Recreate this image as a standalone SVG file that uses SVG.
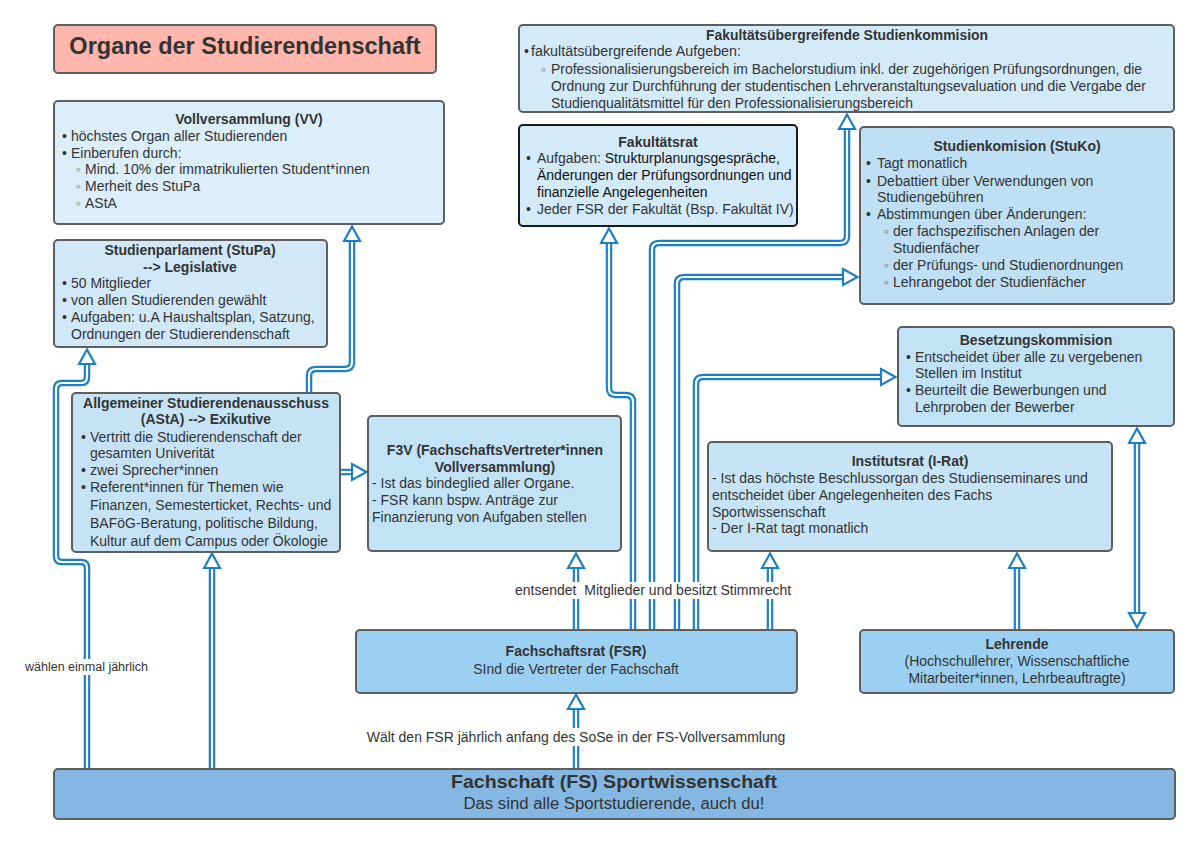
<svg xmlns="http://www.w3.org/2000/svg" width="1200" height="844" viewBox="0 0 1200 844">
<style>
.box{stroke:#5E5E5E;stroke-width:2}
.t{font-family:"Liberation Sans",Arial,Helvetica,sans-serif;font-size:14px;fill:#333}
.h{font-weight:bold;text-anchor:middle}
.m{text-anchor:middle}
.sb{font-family:"DejaVu Sans","Liberation Sans",sans-serif;font-size:12px;fill:#333}
.lo{fill:none;stroke:#1B7FC4;stroke-width:6.5}
.li{fill:none;stroke:#fff;stroke-width:2.2}
.ah{marker-end:url(#ah)}
.lbl{fill:#fff}
</style>
<defs>
<marker id="ah" viewBox="-3 -11 22 22" refX="0" refY="0" markerWidth="22" markerHeight="22" markerUnits="userSpaceOnUse" orient="auto-start-reverse" overflow="visible">
<path d="M0,-8 L14.5,0 L0,8 Z" fill="#fff" stroke="#1B7FC4" stroke-width="2.2"/>
</marker>
</defs>
<rect width="1200" height="844" fill="#fff"/>

<g id="connectors">
<path class="lo" d="M87,769 V568 Q87,562 81,562 H62 Q56,562 56,556 V389 Q56,383 62,383 H81 Q87,383 87,377 V364"/>
<path class="li ah" d="M87,769 V568 Q87,562 81,562 H62 Q56,562 56,556 V389 Q56,383 62,383 H81 Q87,383 87,377 V364"/>
<path class="lo" d="M212,769 V568"/><path class="li ah" d="M212,769 V568"/>
<path class="lo" d="M309,393 V376 Q309,369 316,369 H345 Q352,369 352,362 V241"/>
<path class="li ah" d="M309,393 V376 Q309,369 316,369 H345 Q352,369 352,362 V241"/>
<path class="lo" d="M340,472 H352"/><path class="li ah" d="M340,472 H352"/>
<path class="lo" d="M576,769 V709"/><path class="li ah" d="M576,769 V709"/>
<path class="lo" d="M576,630 V568"/><path class="li ah" d="M576,630 V568"/>
<path class="lo" d="M633,630 V402 Q633,395 626,395 H616 Q609,395 609,388 V243"/>
<path class="li ah" d="M633,630 V402 Q633,395 626,395 H616 Q609,395 609,388 V243"/>
<path class="lo" d="M652,630 V250 Q652,243 659,243 H840 Q847,243 847,236 V129"/>
<path class="li ah" d="M652,630 V250 Q652,243 659,243 H840 Q847,243 847,236 V129"/>
<path class="lo" d="M677,630 V284 Q677,277 684,277 H843"/>
<path class="li ah" d="M677,630 V284 Q677,277 684,277 H843"/>
<path class="lo" d="M696,630 V384 Q696,377 703,377 H881"/>
<path class="li ah" d="M696,630 V384 Q696,377 703,377 H881"/>
<path class="lo" d="M770,630 V568"/><path class="li ah" d="M770,630 V568"/>
<path class="lo" d="M1017,630 V568"/><path class="li ah" d="M1017,630 V568"/>
<path class="lo" d="M1137,613 V443"/><path class="li" d="M1137,613 V443" marker-start="url(#ah)" marker-end="url(#ah)"/>
<rect class="lbl" x="23" y="659" width="128" height="16"/>
<text class="t" x="25" y="671" style="font-size:12.5px">wählen einmal jährlich</text>
<rect class="lbl" x="513" y="582" width="281" height="17"/>
<text class="t" x="515" y="595" xml:space="preserve">entsendet  Mitglieder und besitzt Stimmrecht</text>
<rect class="lbl" x="365" y="728" width="422" height="18"/>
<text class="t m" x="576" y="742">Wält den FSR jährlich anfang des SoSe in der FS-Vollversammlung</text>
</g>

<g id="title">
<rect class="box" x="54" y="25" width="382" height="48" rx="4" fill="#FFB7AD"/>
<text class="t h" x="245" y="54" style="font-size:23.5px">Organe der Studierendenschaft</text>
</g>

<g id="vv">
<rect class="box" x="54" y="101" width="390" height="123" rx="4" fill="#DCEEFA"/>
<text class="t h" x="249" y="124">Vollversammlung (VV)</text>
<text class="t" x="62" y="141">•</text><text class="t" x="71" y="141">höchstes Organ aller Studierenden</text>
<text class="t" x="62" y="158">•</text><text class="t" x="71" y="158">Einberufen durch:</text>
<text class="sb" x="75" y="174">◦</text><text class="t" x="85" y="174">Mind. 10% der immatrikulierten Student*innen</text>
<text class="sb" x="75" y="191">◦</text><text class="t" x="85" y="191">Merheit des StuPa</text>
<text class="sb" x="75" y="208">◦</text><text class="t" x="85" y="208">AStA</text>
</g>

<g id="stupa">
<rect class="box" x="54" y="240" width="273" height="107" rx="4" fill="#D0E8F8"/>
<text class="t h" x="190" y="255">Studienparlament (StuPa)</text>
<text class="t h" x="190" y="272">--&gt; Legislative</text>
<text class="t" x="62" y="288">•</text><text class="t" x="71" y="288">50 Mitglieder</text>
<text class="t" x="62" y="305">•</text><text class="t" x="71" y="305">von allen Studierenden gewählt</text>
<text class="t" x="62" y="322">•</text><text class="t" x="71" y="322">Aufgaben: u.A Haushaltsplan, Satzung,</text>
<text class="t" x="71" y="339">Ordnungen der Studierendenschaft</text>
</g>

<g id="asta">
<rect class="box" x="72" y="393" width="268" height="159" rx="4" fill="#C6E3F6"/>
<text class="t h" x="206" y="408">Allgemeiner Studierendenausschuss</text>
<text class="t h" x="206" y="424">(AStA) --&gt; Exikutive</text>
<text class="t" x="81" y="442">•</text><text class="t" x="90" y="442">Vertritt die Studierendenschaft der</text>
<text class="t" x="90" y="458">gesamten Univerität</text>
<text class="t" x="81" y="475">•</text><text class="t" x="90" y="475">zwei Sprecher*innen</text>
<text class="t" x="81" y="492">•</text><text class="t" x="90" y="492">Referent*innen für Themen wie</text>
<text class="t" x="90" y="510">Finanzen, Semesterticket, Rechts- und</text>
<text class="t" x="90" y="528">BAFöG-Beratung, politische Bildung,</text>
<text class="t" x="90" y="546">Kultur auf dem Campus oder Ökologie</text>
</g>

<g id="f3v">
<rect class="box" x="368" y="416" width="253" height="135" rx="4" fill="#C2E2F6"/>
<text class="t h" x="495" y="455">F3V (FachschaftsVertreter*innen</text>
<text class="t h" x="495" y="472">Vollversammlung)</text>
<text class="t" x="372" y="488">- Ist das bindeglied aller Organe.</text>
<text class="t" x="372" y="505">- FSR kann bspw. Anträge zur</text>
<text class="t" x="372" y="522">Finanzierung von Aufgaben stellen</text>
</g>

<g id="fakultaetsrat">
<rect x="519" y="125" width="278" height="101" rx="4" fill="#D3EAF8" stroke="#1A1A1A" stroke-width="2"/>
<text class="t h" x="658" y="147">Fakultätsrat</text>
<text class="t" x="526" y="163">•</text><text class="t" x="537" y="163">Aufgaben: <tspan style="fill:#111">Strukturplanungsgespräche,</tspan></text>
<text class="t" x="537" y="180" style="fill:#111">Änderungen der Prüfungsordnungen und</text>
<text class="t" x="537" y="197" style="fill:#111">finanzielle Angelegenheiten</text>
<text class="t" x="526" y="214">•</text><text class="t" x="537" y="214">Jeder FSR der Fakultät (Bsp. Fakultät IV)</text>
</g>

<g id="fakultaetsuebergreifend">
<rect class="box" x="519" y="25" width="655" height="87" rx="4" fill="#D3EAF8"/>
<text class="t h" x="847" y="40" textLength="282" lengthAdjust="spacingAndGlyphs">Fakultätsübergreifende Studienkommision</text>
<text class="t" x="524" y="56">•</text><text class="t" x="531" y="56" textLength="210" lengthAdjust="spacingAndGlyphs">fakultätsübergreifende Aufgeben:</text>
<text class="sb" x="540" y="74">◦</text><text class="t" x="551" y="74" textLength="591" lengthAdjust="spacingAndGlyphs">Professionalisierungsbereich im Bachelorstudium inkl. der zugehörigen Prüfungsordnungen, die</text>
<text class="t" x="551" y="91" textLength="595" lengthAdjust="spacingAndGlyphs">Ordnung zur Durchführung der studentischen Lehrveranstaltungsevaluation und die Vergabe der</text>
<text class="t" x="551" y="108" textLength="362" lengthAdjust="spacingAndGlyphs">Studienqualitätsmittel für den Professionalisierungsbereich</text>
</g>

<g id="stuko">
<rect class="box" x="860" y="127" width="314" height="177" rx="4" fill="#BEDFF4"/>
<text class="t h" x="1017" y="151">Studienkomision (StuKo)</text>
<text class="t" x="866" y="168">•</text><text class="t" x="877" y="168">Tagt monatlich</text>
<text class="t" x="866" y="186">•</text><text class="t" x="877" y="186">Debattiert über Verwendungen von</text>
<text class="t" x="877" y="202">Studiengebühren</text>
<text class="t" x="866" y="219">•</text><text class="t" x="877" y="219">Abstimmungen über Änderungen:</text>
<text class="sb" x="883" y="236">◦</text><text class="t" x="893" y="236">der fachspezifischen Anlagen der</text>
<text class="t" x="893" y="253">Studienfächer</text>
<text class="sb" x="883" y="270">◦</text><text class="t" x="893" y="270">der Prüfungs- und Studienordnungen</text>
<text class="sb" x="883" y="287">◦</text><text class="t" x="893" y="287">Lehrangebot der Studienfächer</text>
</g>

<g id="besetzung">
<rect class="box" x="898" y="327" width="276" height="99" rx="4" fill="#C2E2F5"/>
<text class="t h" x="1036" y="345">Besetzungskommision</text>
<text class="t" x="906" y="362">•</text><text class="t" x="915" y="362">Entscheidet über alle zu vergebenen</text>
<text class="t" x="915" y="378">Stellen im Institut</text>
<text class="t" x="906" y="395">•</text><text class="t" x="915" y="395">Beurteilt die Bewerbungen und</text>
<text class="t" x="915" y="412">Lehrproben der Bewerber</text>
</g>

<g id="institutsrat">
<rect class="box" x="708" y="442" width="404" height="109" rx="4" fill="#C6E4F6"/>
<text class="t h" x="910" y="466">Institutsrat (I-Rat)</text>
<text class="t" x="712" y="483">- Ist das höchste Beschlussorgan des Studienseminares und</text>
<text class="t" x="712" y="500">entscheidet über Angelegenheiten des Fachs</text>
<text class="t" x="712" y="517">Sportwissenschaft</text>
<text class="t" x="712" y="533">- Der I-Rat tagt monatlich</text>
</g>

<g id="fsr">
<rect class="box" x="356" y="630" width="441" height="63" rx="4" fill="#9BD0F2"/>
<text class="t h" x="576" y="656">Fachschaftsrat (FSR)</text>
<text class="t m" x="576" y="674">SInd die Vertreter der Fachschaft</text>
</g>

<g id="lehrende">
<rect class="box" x="860" y="630" width="314" height="63" rx="4" fill="#9BD0F2"/>
<text class="t h" x="1017" y="649">Lehrende</text>
<text class="t m" x="1017" y="666">(Hochschullehrer, Wissenschaftliche</text>
<text class="t m" x="1017" y="683">Mitarbeiter*innen, Lehrbeauftragte)</text>
</g>

<g id="fachschaft">
<rect class="box" x="54" y="769" width="1121" height="50" rx="4" fill="#84B8E2"/>
<text class="t h" x="614" y="788" style="font-size:19px" textLength="326" lengthAdjust="spacingAndGlyphs">Fachschaft (FS) Sportwissenschaft</text>
<text class="t m" x="614" y="809" style="font-size:16px" textLength="301" lengthAdjust="spacingAndGlyphs">Das sind alle Sportstudierende, auch du!</text>
</g>
</svg>
